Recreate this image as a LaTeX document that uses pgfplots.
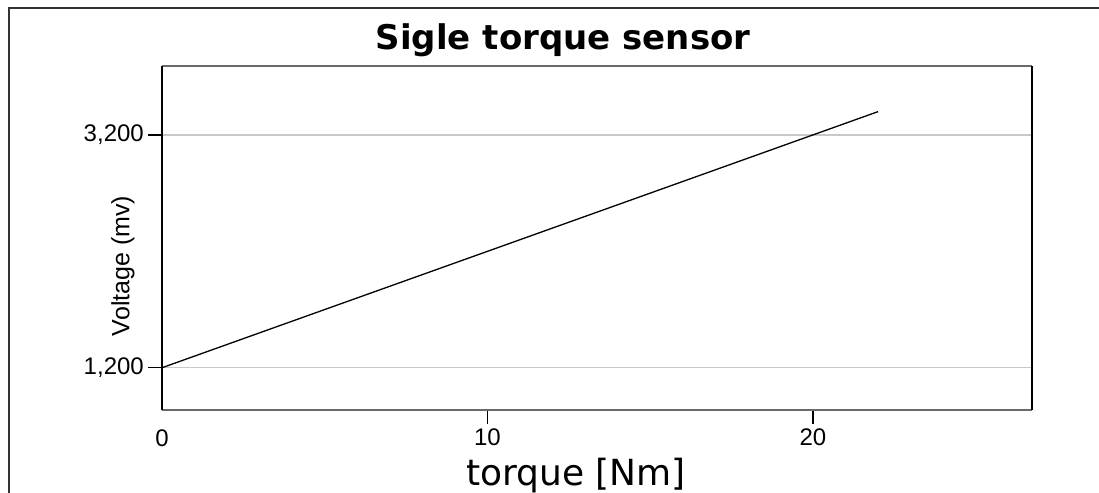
\documentclass[border=0pt]{standalone}
\usepackage{fontspec}
\setmainfont{Liberation Sans}
\newfontfamily\titlefont{DejaVu Sans}
\usepackage{pgfplots}
\pgfplotsset{compat=1.18}
\definecolor{gridgray}{HTML}{C8C8C8}
\definecolor{xline}{HTML}{6A6A6A}
\definecolor{frame}{HTML}{333333}
\begin{document}
\begin{tikzpicture}
\path[use as bounding box] (0,0) rectangle (1099bp,493bp);
\draw[line width=1.6bp, frame] (9bp,0) -- (9bp,485bp) -- (1099bp,485bp);
\begin{axis}[
  at={(162bp,83bp)}, anchor=south west,
  scale only axis, width=870bp, height=344bp,
  xmin=0, xmax=26.73, ymin=837, ymax=3792,
  xtick={10,20}, ytick={1200,3200},
  extra x ticks={0},
  extra x tick style={major tick length=0pt, grid=none, xticklabel style={yshift=-15bp}},
  yticklabels={{1,200},{3,200}},
  xtick pos=bottom, ytick pos=left,
  /pgf/number format/assume math mode=true,
  tick align=outside, major tick length=14bp,
  tick style={black, line width=1.2bp},
  every tick label/.append style={font=\fontsize{24bp}{28bp}\selectfont},
  xticklabel style={inner sep=0pt, anchor=north, yshift=-5bp},
  yticklabel style={inner sep=0pt, anchor=east, xshift=-4bp},
  ymajorgrids, grid style={gridgray, line width=1.5bp},
  separate axis lines,
  every outer x axis line/.append style={xline, line width=1.8bp},
  every outer y axis line/.append style={black, line width=1.6bp},
  title={\titlefont\bfseries Sigle torque sensor},
  title style={font=\fontsize{34bp}{40bp}\selectfont, at={(rel axis cs:0.461,1.032)}, anchor=base, inner sep=0pt},
  xlabel={\titlefont torque [Nm]},
  xlabel style={font=\fontsize{36bp}{42bp}\selectfont, at={(rel axis cs:0.476,-0.22)}, anchor=base, inner sep=0pt},
  ylabel={Voltage (mv)},
  ylabel style={font=\fontsize{25bp}{29bp}\selectfont, at={(rel axis cs:-0.0448,0.4186)}, anchor=center, inner sep=0pt},
]
\addplot[black, line width=1.3bp, mark=none] coordinates {(0,1200) (22,3400)};
\end{axis}
\end{tikzpicture}
\end{document}
